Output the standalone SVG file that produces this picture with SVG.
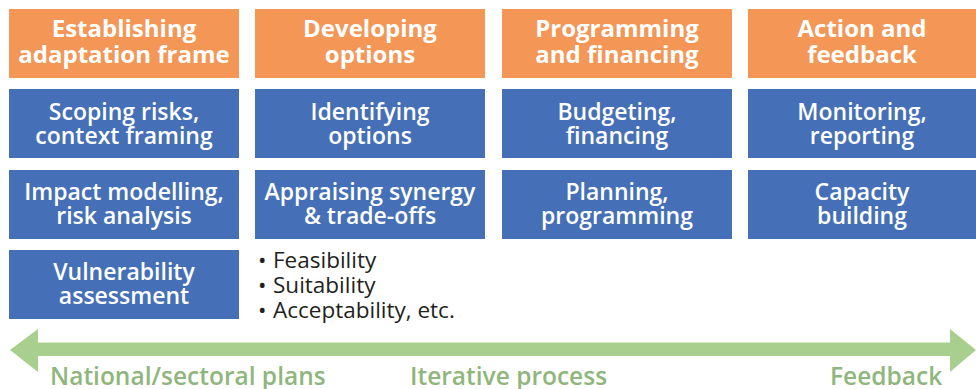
<svg xmlns="http://www.w3.org/2000/svg" width="976" height="389" viewBox="0 0 976 389">
<style>
.hdr{fill:#F39656}
.box{fill:#4570B7}
.ht{font-family:"Open Sans","Liberation Sans",sans-serif;font-weight:700;font-size:24px;fill:#fff;text-anchor:middle}
.bt{font-family:"Open Sans","Liberation Sans",sans-serif;font-weight:600;font-size:23px;fill:#fff;text-anchor:middle}
.bl{font-family:"Open Sans","Liberation Sans",sans-serif;font-weight:400;font-size:22.5px;fill:#231F20}
.gl{font-family:"Open Sans","Liberation Sans",sans-serif;font-weight:600;font-size:24.5px;fill:#8FB67C}
</style>
<rect width="976" height="389" fill="#fff"/>
<g id="h1"><rect class="hdr" x="9" y="9" width="230" height="69"/><text class="ht" x="124" y="37">Establishing</text><text class="ht" x="124" y="63">adaptation frame</text></g>
<g id="h2"><rect class="hdr" x="255" y="9" width="230" height="69"/><text class="ht" x="370" y="37">Developing</text><text class="ht" x="370" y="63">options</text></g>
<g id="h3"><rect class="hdr" x="502" y="9" width="230" height="69"/><text class="ht" x="617" y="37">Programming</text><text class="ht" x="617" y="63">and financing</text></g>
<g id="h4"><rect class="hdr" x="748" y="9" width="228" height="69"/><text class="ht" x="862" y="37">Action and</text><text class="ht" x="862" y="63">feedback</text></g>

<g id="b11"><rect class="box" x="9" y="89" width="230" height="69"/><text class="bt" x="124" y="120">Scoping risks,</text><text class="bt" x="124" y="144">context framing</text></g>
<g id="b21"><rect class="box" x="255" y="89" width="230" height="69"/><text class="bt" x="370" y="120">Identifying</text><text class="bt" x="370" y="144">options</text></g>
<g id="b31"><rect class="box" x="502" y="89" width="230" height="69"/><text class="bt" x="617" y="120">Budgeting,</text><text class="bt" x="617" y="144">financing</text></g>
<g id="b41"><rect class="box" x="748" y="89" width="228" height="69"/><text class="bt" x="862" y="120">Monitoring,</text><text class="bt" x="862" y="144">reporting</text></g>

<g id="b12"><rect class="box" x="9" y="170" width="230" height="69"/><text class="bt" x="124" y="200">Impact modelling,</text><text class="bt" x="124" y="224">risk analysis</text></g>
<g id="b22"><rect class="box" x="255" y="170" width="230" height="69"/><text class="bt" x="370" y="200">Appraising synergy</text><text class="bt" x="370" y="224">&amp; trade-offs</text></g>
<g id="b32"><rect class="box" x="502" y="170" width="230" height="69"/><text class="bt" x="617" y="200">Planning,</text><text class="bt" x="617" y="224">programming</text></g>
<g id="b42"><rect class="box" x="748" y="170" width="228" height="69"/><text class="bt" x="862" y="200">Capacity</text><text class="bt" x="862" y="224">building</text></g>

<g id="b13"><rect class="box" x="9" y="250" width="230" height="69"/><text class="bt" x="124" y="280">Vulnerability</text><text class="bt" x="124" y="304">assessment</text></g>

<g id="bullets">
<text class="bl" x="258" y="268">•</text><text class="bl" x="273" y="268">Feasibility</text>
<text class="bl" x="258" y="293">•</text><text class="bl" x="273" y="293">Suitability</text>
<text class="bl" x="258" y="318">•</text><text class="bl" x="273" y="318">Acceptability, etc.</text>
</g>

<g id="connectors">
<polygon points="10,350 38,329 38,342.5 950,342.5 950,329 976,350 950,372 950,356 38,356 38,372" fill="#A9CF8F"/>
</g>
<g id="labels">
<text class="gl" x="50" y="385">National/sectoral plans</text>
<text class="gl" x="410" y="385">Iterative process</text>
<text class="gl" x="830" y="385">Feedback</text>
</g>
</svg>
